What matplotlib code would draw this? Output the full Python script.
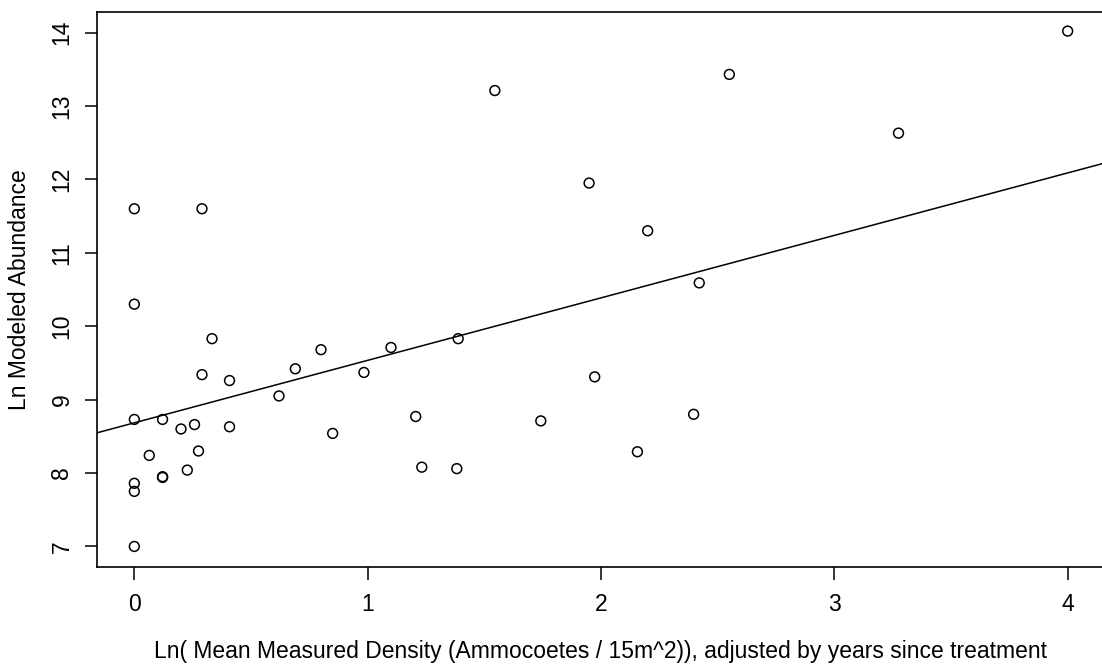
import numpy as np
import matplotlib
matplotlib.use("Agg")
import matplotlib.pyplot as plt

# ln mean measured density (adjusted) vs ln modeled abundance
density = [0.0, 0.29, 0.0, 0.333, 0.0, 0.121, 0.2, 0.258, 0.29, 0.408,
           0.408, 0.064, 0.121, 0.121, 0.275, 0.227, 0.0, 0.0, 0.0, 0.62,
           0.69, 0.80, 0.85, 0.984, 1.10, 1.206, 1.232, 1.382, 1.388, 1.545,
           2.55, 1.949, 2.20, 2.421, 1.973, 1.742, 2.397, 2.156, 3.275, 4.0]
abundance = [11.60, 11.60, 10.30, 9.83, 8.73, 8.73, 8.60, 8.66, 9.34, 9.26,
             8.63, 8.24, 7.94, 7.95, 8.30, 8.04, 7.86, 7.75, 7.00, 9.05,
             9.42, 9.68, 8.54, 9.37, 9.71, 8.77, 8.08, 8.06, 9.83, 13.21,
             13.43, 11.95, 11.30, 10.59, 9.31, 8.71, 8.80, 8.29, 12.63, 14.02]

# regression line as drawn in the original (abline)
fit_intercept = 8.684
fit_slope = 0.851

x_ticks = [0, 1, 2, 3, 4]
y_ticks = [7, 8, 9, 10, 11, 12, 13, 14]

plt.rcParams['font.family'] = ['Liberation Sans', 'DejaVu Sans']

fig = plt.figure(figsize=(11.02, 6.67), dpi=100)
ax = fig.add_axes([97/1102, 1 - 567/667, 1008/1102, 555/667])

ax.scatter(density, abundance, s=50, facecolors='none', edgecolors='black',
           linewidths=1.1, zorder=3)

xx = np.array([-1, 5])
ax.plot(xx, fit_intercept + fit_slope * xx, color='black', lw=1.1)

ax.set_xlim(-0.16, 4.16)
ax.set_ylim(6.72, 14.28)
ax.set_xticks(x_ticks)
ax.set_yticks(y_ticks)
ax.tick_params(length=9, width=1.1, labelsize=16.5)
ax.tick_params(axis='x', pad=10)
ax.tick_params(axis='y', pad=8)
for lab in ax.get_yticklabels():
    lab.set_rotation(90)
    lab.set_va('center')
for s in ax.spines.values():
    s.set_linewidth(1.2)

ax.set_xlabel('Ln( Mean Measured Density (Ammocoetes / 15m^2)), adjusted by years since treatment',
              fontsize=16.5, labelpad=17)
ax.set_ylabel('Ln Modeled Abundance', fontsize=16.5, labelpad=14)

fig.savefig('out.png', dpi=100)
